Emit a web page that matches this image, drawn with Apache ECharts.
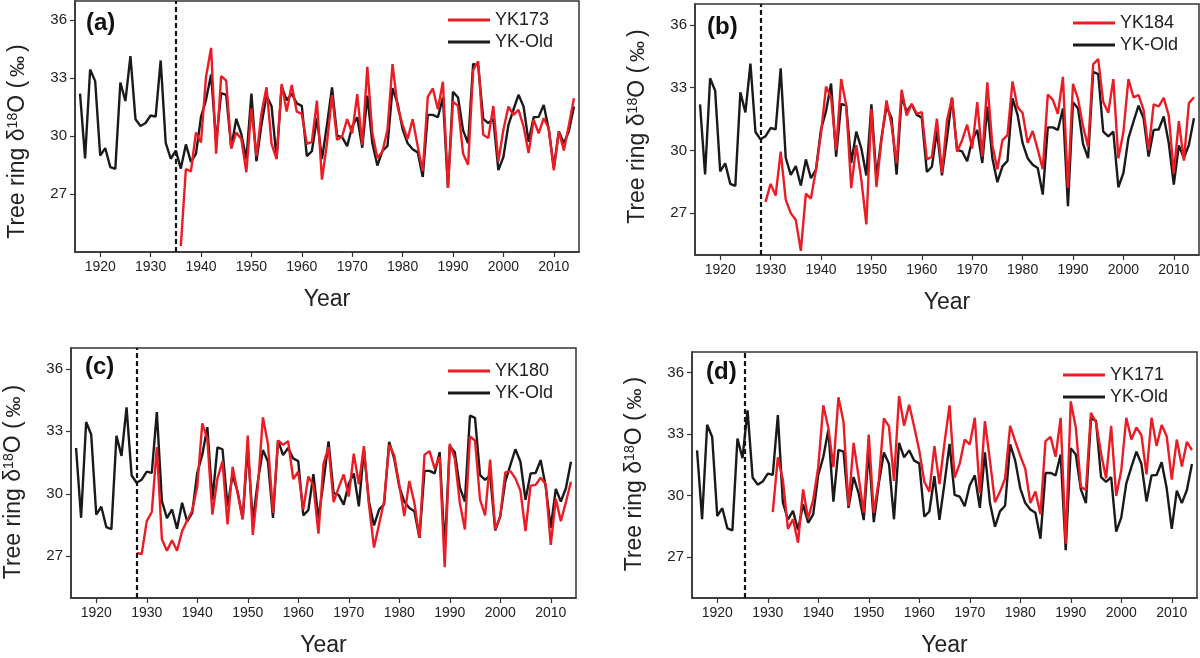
<!DOCTYPE html>
<html><head><meta charset="utf-8">
<script src="https://cdn.jsdelivr.net/npm/echarts@6/dist/echarts.min.js"></script>
<style>html,body{margin:0;padding:0;background:#fff}#c{width:1200px;height:658px}</style>
</head><body><div id="c"></div>
<script>
const years = [1916,1917,1918,1919,1920,1921,1922,1923,1924,1925,1926,1927,1928,1929,1930,1931,1932,1933,1934,1935,
1936,1937,1938,1939,1940,1941,1942,1943,1944,1945,1946,1947,1948,1949,1950,1951,1952,1953,1954,1955,
1956,1957,1958,1959,1960,1961,1962,1963,1964,1965,1966,1967,1968,1969,1970,1971,1972,1973,1974,1975,
1976,1977,1978,1979,1980,1981,1982,1983,1984,1985,1986,1987,1988,1989,1990,1991,1992,1993,1994,1995,
1996,1997,1998,1999,2000,2001,2002,2003,2004,2005,2006,2007,2008,2009,2010,2011,2012,2013,2014];

const ykOld = [32.2,28.85,33.45,32.85,29.0,29.38,28.4,28.3,32.78,31.82,34.15,30.88,30.53,30.68,31.07,31.01,33.92,29.65,28.83,29.25,
28.32,29.57,28.67,29.08,31.0,31.88,33.2,29.7,32.23,32.14,29.4,30.9,30.1,28.8,32.2,28.7,30.6,32.1,31.55,28.84,
32.57,31.86,32.2,31.7,31.57,28.97,29.22,30.94,28.81,30.59,32.52,30.03,29.95,29.48,30.5,30.98,29.4,32.1,29.63,28.48,
29.24,29.5,32.49,31.7,30.35,29.63,29.32,29.16,27.89,31.1,31.1,30.98,32.0,27.33,32.3,32.0,30.3,29.63,33.75,33.65,
30.9,30.67,30.9,28.24,28.92,30.59,31.38,32.14,31.54,29.71,30.98,31.0,31.62,30.35,28.37,30.24,29.63,30.27,31.54];

const yk173Start = 1936;
const yk173 = [24.31,28.3,28.18,30.19,29.67,33.08,34.57,29.09,33.11,32.87,
29.35,30.19,29.85,28.13,31.44,28.95,31.19,32.53,29.6,28.81,
32.7,31.27,32.65,31.27,31.15,29.6,29.7,31.84,27.75,29.64,
32.13,29.81,29.98,30.88,30.15,32.18,29.55,33.59,30.15,28.87,
29.21,30.33,33.73,31.53,30.58,29.85,30.88,29.47,28.18,32.04,
32.47,31.39,32.82,27.32,31.79,31.56,29.09,28.52,33.42,33.88,
30.07,29.9,31.56,28.69,30.33,31.53,31.1,31.36,30.5,29.12,
30.84,30.15,30.93,30.41,28.23,30.24,29.26,30.58,31.96];

const yk184Start = 1929;
const yk184 = [27.54,28.4,27.84,29.94,27.65,27.0,26.67,25.2,27.93,27.7,
29.07,30.8,33.05,32.54,30.0,33.41,32.15,28.2,30.25,28.6,
26.46,31.99,28.25,30.49,32.39,31.2,29.38,32.9,31.67,32.23,
31.75,31.83,29.57,29.7,31.52,28.91,31.44,32.51,29.94,30.49,
31.23,30.09,32.31,29.7,33.25,30.25,29.1,30.49,30.73,33.3,
32.07,31.79,30.36,30.93,30.05,29.1,32.67,32.42,31.75,33.52,
28.2,33.18,32.46,31.15,30.17,34.12,34.36,32.31,31.8,33.41,
29.62,30.88,33.41,32.54,32.65,31.94,30.02,32.2,32.1,32.51,
31.67,28.91,31.4,29.51,32.26,32.54];

const yk180Start = 1928;
const yk180 = [27.16,27.11,28.69,29.13,32.24,27.82,27.27,27.77,27.27,28.21,
28.72,29.19,30.35,33.38,32.64,29.0,30.74,31.56,28.53,31.3,
30.03,28.77,32.8,28.03,30.35,33.67,32.4,29.08,32.56,32.35,
32.53,30.71,31.06,29.25,30.83,30.4,28.09,31.45,32.24,29.6,
30.3,30.93,29.87,31.93,30.46,32.29,29.48,27.42,28.53,29.64,
32.35,31.85,30.43,28.93,30.62,29.56,27.9,31.88,32.05,31.22,
31.77,26.48,32.4,31.69,29.56,28.29,32.75,32.56,29.72,28.97,
31.64,28.29,28.93,31.03,31.09,30.74,30.14,28.21,30.39,30.43,
30.77,30.46,27.55,29.76,28.69,29.6,30.58];

const yk171Start = 1931;
const yk171 = [29.19,31.86,30.75,28.37,28.84,27.7,30.3,28.87,29.79,31.38,
34.4,33.29,31.38,34.79,33.6,29.48,32.57,30.9,29.16,32.97,
29.16,30.75,33.76,33.37,30.71,34.85,33.4,34.43,33.35,32.2,
30.67,30.19,32.41,30.56,32.57,34.4,30.87,31.54,32.73,32.49,
33.79,30.11,33.63,31.7,29.67,30.19,30.83,33.4,32.65,31.94,
31.3,29.63,30.19,29.08,32.65,32.86,31.89,33.79,27.65,34.59,
33.32,30.43,30.27,34.03,33.57,32.05,30.83,33.4,29.98,31.22,
33.79,32.73,33.32,32.94,31.03,33.79,32.41,33.44,32.89,30.78,
32.73,31.41,32.62,32.21];

const panelLabels = ['(a)', '(b)', '(c)', '(d)'];
const redNames = ['YK173', 'YK184', 'YK180', 'YK171'];
const redValues = [yk173, yk184, yk180, yk171];
const redStarts = [yk173Start, yk184Start, yk180Start, yk171Start];
const splitYears = [1935, 1928, 1928, 1925.5];
const xTicks = [1920, 1930, 1940, 1950, 1960, 1970, 1980, 1990, 2000, 2010];
const yTicks = [27, 30, 33, 36];
const yMins = [24, 25, 25, 25];
const yMax = 37;
const xMin = 1915, xMax = 2015;

// layout (pixels)
const grids = [
  {left: 75, top: 1, width: 504, height: 251},
  {left: 695, top: 4, width: 504, height: 251},
  {left: 71, top: 348, width: 505, height: 251},
  {left: 692, top: 352, width: 505, height: 252}
];
const legendPos = [{left: 448, top: 11}, {left: 1073, top: 14}, {left: 448, top: 362}, {left: 1063, top: 366}];
const titlePos = [{left: 86, top: 11}, {left: 707, top: 15}, {left: 85, top: 355}, {left: 706, top: 360}];
const nameShift = [15, -3, 9, -1];

const FONT = '"Liberation Sans", Arial, Helvetica, sans-serif';
const RED = '#ec1c24', BLACK = '#1a1a1a', AXIS = '#333';

function pairs(vals, start) {
  const i0 = years.indexOf(start);
  return vals.map((v, i) => [years[i0 + i], v]);
}
function shiftPad(s) {
  return s >= 0 ? [0, 2 * s, 0, 0] : [0, 0, 0, -2 * s];
}

const option = {
  animation: false,
  backgroundColor: '#fff',
  textStyle: {fontFamily: FONT},
  title: panelLabels.map((t, i) => ({
    text: t, left: titlePos[i].left, top: titlePos[i].top, padding: 0,
    textStyle: {fontFamily: FONT, fontSize: 24, fontWeight: 'bold', color: '#111'}
  })),
  legend: redNames.map((n, i) => ({
    orient: 'vertical', left: legendPos[i].left, top: legendPos[i].top,
    padding: 0, icon: 'rect', itemWidth: 42, itemHeight: 3, itemGap: 4,
    data: [n, 'YK-Old'],
    textStyle: {fontFamily: FONT, fontSize: 18, color: '#222', lineHeight: 18}
  })),
  grid: grids.map(g => Object.assign({show: true, borderColor: AXIS, borderWidth: 1.5, backgroundColor: 'transparent', containLabel: false}, g)),
  xAxis: grids.map((g, i) => ({
    type: 'value', gridIndex: i, min: xMin, max: xMax,
    name: 'Year', nameLocation: 'middle', nameGap: 36,
    nameTextStyle: {fontFamily: FONT, fontSize: 23, color: '#222'},
    axisLine: {show: true, lineStyle: {color: AXIS, width: 1.5}},
    axisTick: {show: true, length: 5, customValues: xTicks, lineStyle: {color: AXIS, width: 1.2}},
    axisLabel: {customValues: xTicks, fontSize: 14, color: '#222', margin: 8, fontFamily: FONT,
      formatter: v => String(v)},
    splitLine: {show: false}
  })),
  yAxis: grids.map((g, i) => ({
    type: 'value', gridIndex: i, min: yMins[i], max: yMax,
    name: 'Tree ring δ{sup|18}O ({pm|‰})', nameLocation: 'middle', nameGap: 45,
    nameTextStyle: {
      fontFamily: FONT, fontSize: 23, color: '#222', padding: shiftPad(nameShift[i]),
      rich: {
        sup: {fontFamily: FONT, fontSize: 14, color: '#222', verticalAlign: 'top', padding: [0, 0, 10, 0]},
        pm: {fontFamily: FONT, fontSize: 21, color: '#222', padding: [0, 4, 0, 4]}
      }
    },
    axisLine: {show: true, lineStyle: {color: AXIS, width: 1.5}},
    axisTick: {show: true, length: 5, customValues: yTicks, lineStyle: {color: AXIS, width: 1.2}},
    axisLabel: {customValues: yTicks, fontSize: 15, color: '#222', margin: 8, fontFamily: FONT,
      formatter: v => String(v)},
    splitLine: {show: false}
  })),
  series: []
};

redNames.forEach((n, i) => {
  option.series.push({
    name: 'YK-Old', type: 'line', xAxisIndex: i, yAxisIndex: i,
    data: pairs(ykOld, years[0]), symbol: 'none',
    lineStyle: {color: BLACK, width: 2.4}, itemStyle: {color: BLACK},
    markLine: {
      silent: true, symbol: ['none', 'none'], label: {show: false},
      lineStyle: {color: '#111', type: [5, 3], width: 2.2},
      data: [{xAxis: splitYears[i]}]
    }
  });
  option.series.push({
    name: n, type: 'line', xAxisIndex: i, yAxisIndex: i,
    data: pairs(redValues[i], redStarts[i]), symbol: 'none',
    lineStyle: {color: RED, width: 2.4}, itemStyle: {color: RED}
  });
});

const chart = echarts.init(document.getElementById('c'), null, {renderer: 'canvas'});
chart.setOption(option);
</script>
</body></html>
